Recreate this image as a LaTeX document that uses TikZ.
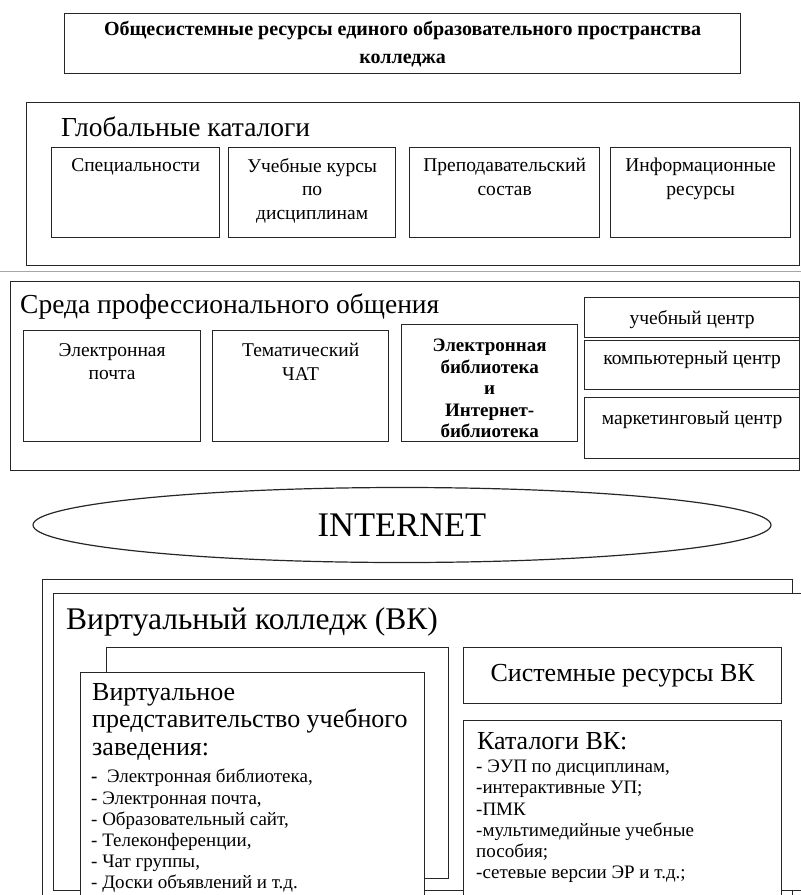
\documentclass[tikz,border=0pt]{standalone}
\usepackage{fontspec}
\setmainfont{Liberation Serif}
\usetikzlibrary{positioning,shapes.geometric}

\begin{document}
\begin{tikzpicture}[x=1pt, y=-1pt,
  frame/.style={draw=black!85, line width=1.3pt, fill=white,
                inner sep=0pt, anchor=north west},
  lbl/.style={font=\fontsize{19.5}{23.5}\selectfont, align=center, inner sep=0pt},
  blbl/.style={font=\bfseries\fontsize{19}{21.5}\selectfont, align=center, inner sep=0pt},
  head/.style={font=\fontsize{27.5}{32}\selectfont, anchor=west, inner sep=0pt},
  big/.style={font=\fontsize{26}{27.5}\selectfont, align=left, inner sep=0pt,
              anchor=north west},
  lst/.style={font=\fontsize{19}{21.2}\selectfont, align=left, inner sep=0pt,
              anchor=north west},
]
\useasboundingbox (0,0) rectangle (801,895);
\clip (0,0) rectangle (801,895);

%% ---- Common resources ----
\node[frame, minimum width=676pt, minimum height=60pt,
      font=\bfseries\fontsize{20}{28}\selectfont, align=center] (ores) at (64,13)
  {Общесистемные ресурсы единого образовательного пространства\\колледжа};

%% ---- Global catalogues ----
\node[frame, minimum width=773pt, minimum height=163pt] (gcat) at (26,102) {};
\node[head] (gcatT) at (61,127) {Глобальные каталоги};

\node[frame, minimum width=168pt, minimum height=90pt] (spec) at (51,147) {};
\node[frame, minimum width=167pt, minimum height=90pt] (kurs) at (228,147) {};
\node[frame, minimum width=190pt, minimum height=90pt] (prep) at (409,147) {};
\node[frame, minimum width=180pt, minimum height=90pt] (info) at (610,147) {};

\node[lbl, below=11pt of spec.north] (specT) {Специальности};
\node[lbl, below=11pt of kurs.north] (kursT) {Учебные курсы\\по\\дисциплинам};
\node[lbl, below=11pt of prep.north] (prepT) {Преподавательский\\состав};
\node[lbl, below=11pt of info.north] (infoT) {Информационные\\ресурсы};

\draw[black!35, line width=1pt] (0,271) -- (801,271);

%% ---- Professional communication ----
\node[frame, minimum width=789pt, minimum height=189pt] (prof) at (10,281) {};
\node[head] (profT) at (20,307) {Среда профессионального общения};

\node[frame, minimum width=177pt, minimum height=111pt] (mail) at (23,330) {};
\node[frame, minimum width=176pt, minimum height=111pt] (chat) at (212,330) {};
\node[frame, minimum width=176pt, minimum height=117pt] (lib) at (401,324) {};

\node[lbl, below=13pt of mail.north] (mailT) {Электронная\\почта};
\node[lbl, below=13pt of chat.north] (chatT) {Тематический\\ЧАТ};
\node[blbl, below=15pt of lib.north] (libT)
  {Электронная\\библиотека\\и\\Интернет-\\библиотека};

\node[frame, minimum width=215pt, minimum height=40pt] (ucen) at (584,297) {};
\node[frame, minimum width=215pt, minimum height=49pt] (kcen) at (584,340) {};
\node[frame, minimum width=215pt, minimum height=61pt] (mcen) at (584,397) {};

\node[lbl, below=13.5pt of ucen.north] (ucenT) {учебный центр};
\node[lbl, below=11pt of kcen.north] (kcenT) {компьютерный центр};
\node[lbl, below=14pt of mcen.north] (mcenT) {маркетинговый центр};

%% ---- Internet ----
\node[ellipse, draw=black!85, line width=1.2pt, inner sep=0pt,
      minimum width=738pt, minimum height=75pt,
      font=\fontsize{34.5}{40}\selectfont] (inet) at (402,525) {INTERNET};

%% ---- Virtual college ----
\node[frame, minimum width=750pt, minimum height=352pt] (vkback) at (42,579) {};
\node[frame, minimum width=777pt, minimum height=297pt] (vk) at (53,593) {};
\node[head, font=\fontsize{31.5}{36}\selectfont] (vkT) at (66,622)
  {Виртуальный колледж (ВК)};

\node[frame, minimum width=342pt, minimum height=231pt] (vpback) at (106,647) {};
\node[frame, minimum width=344pt, minimum height=250pt] (vp) at (80,672) {};
\node[frame, minimum width=318pt, minimum height=56pt,
      font=\fontsize{26}{28}\selectfont] (sysres) at (463,647) {Системные ресурсы ВК};
\node[frame, minimum width=318pt, minimum height=200pt] (kat) at (463,720) {};

\node[big] (vpT) at (92,683) {Виртуальное\\представительство учебного\\заведения:};
\node[lst] (vpL) at (91,769)
  {{\bfseries -}\ \ Электронная библиотека,\\
   - Электронная почта,\\
   - Образовательный сайт,\\
   - Телеконференции,\\
   - Чат группы,\\
   - Доски объявлений и т.д.};

\node[big] (katT) at (477,732) {Каталоги ВК:};
\node[lst] (katL) at (476,760)
  {- ЭУП по дисциплинам,\\
   -интерактивные УП;\\
   -ПМК\\
   -мультимедийные учебные\\
   пособия;\\
   -сетевые версии ЭР и т.д.;};

\end{tikzpicture}
\end{document}
